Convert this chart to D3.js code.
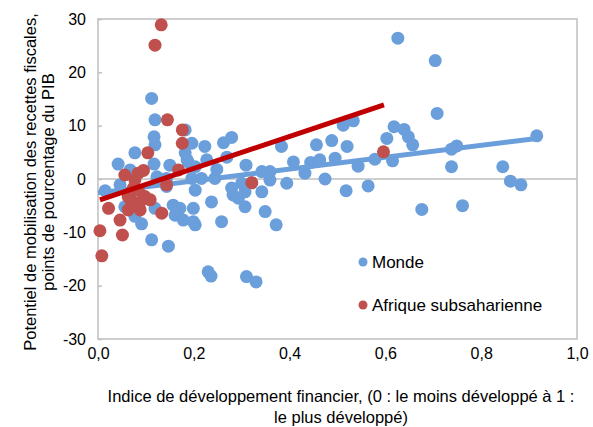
<!DOCTYPE html>
<html>
<head>
<meta charset="utf-8">
<script src="https://cdn.jsdelivr.net/npm/d3@7"></script>
<style>
  body { margin: 0; background: #fff; }
  text { font-family: "Liberation Sans", Arial, sans-serif; fill: #000; }
</style>
</head>
<body>
<div id="chart"></div>
<script>
// Monde: [financial development index, tax potential (pp of GDP)]
const worldX = [0.112, 0.119, 0.117, 0.119, 0.077, 0.042, 0.117, 0.150, 0.182, 0.196,
                0.182, 0.223, 0.262, 0.279, 0.227, 0.269, 0.309, 0.188, 0.203, 0.248,
                0.216, 0.196, 0.244, 0.123, 0.143, 0.046, 0.143, 0.203, 0.056, 0.119,
                0.157, 0.171, 0.199, 0.161, 0.178, 0.203, 0.091, 0.077, 0.112, 0.147,
                0.237, 0.258, 0.282, 0.293, 0.307, 0.199, 0.349, 0.372, 0.230, 0.236,
                0.310, 0.330, 0.300, 0.307, 0.342, 0.359, 0.342, 0.359, 0.394, 0.408,
                0.383, 0.432, 0.444, 0.456, 0.463, 0.474, 0.488, 0.495, 0.512, 0.533,
                0.520, 0.518, 0.543, 0.564, 0.578, 0.603, 0.618, 0.639, 0.648, 0.657,
                0.615, 0.626, 0.704, 0.708, 0.676, 0.738, 0.749, 0.738, 0.761, 0.845,
                0.861, 0.883, 0.916, 0.279, 0.321, 0.186, 0.067, 0.015];
const worldY = [15.1, 11.1, 7.9, 6.4, 4.9, 2.8, 2.8, 2.6, 9.2, 6.7,
                4.9, 6.1, 6.8, 7.8, 3.6, 4.1, 2.6, 3.2, 2.3, 1.8,
                0.1, 0.1, 0.1, 0.4, 0.1, -1.1, -1.4, -2.1, -5.2, -5.5,
                -4.9, -5.5, -5.5, -6.8, -7.7, -8.6, -8.4, -7.0, -11.4, -12.6,
                -4.3, -8.0, -3.0, -3.6, -5.2, -8.0, -6.1, -8.6, -17.4, -18.2,
                -18.3, -19.3, -0.8, -2.4, -2.4, -0.2, 1.4, 1.4, -0.8, 3.2,
                6.1, 1.1, 3.1, 6.4, 3.6, 0.0, 7.2, 3.9, 10.1, 10.9,
                6.1, -2.2, 2.4, -1.3, 3.7, 7.6, 9.8, 9.3, 7.9, 6.4,
                3.4, 26.4, 22.2, 12.3, -5.7, 5.6, 6.2, 2.3, -5.0, 2.3,
                -0.4, -1.1, 8.1, -1.7, -0.7, 3.6, 1.7, -2.2];

// Afrique subsaharienne
const ssaX = [0.132, 0.119, 0.145, 0.176, 0.176, 0.104, 0.168, 0.095, 0.084, 0.056,
              0.077, 0.074, 0.143, 0.070, 0.084, 0.098, 0.063, 0.070, 0.088, 0.109,
              0.063, 0.088, 0.022, 0.046, 0.051, 0.133, 0.004, 0.008, 0.321, 0.596];
const ssaY = [28.9, 25.1, 11.1, 9.2, 6.7, 4.9, 1.7, 1.6, 1.1, 0.75,
              -0.2, -1.7, -1.1, -2.4, -2.1, -3.3, -3.3, -4.3, -4.3, -3.9,
              -5.8, -5.8, -5.5, -7.7, -10.5, -6.4, -9.7, -14.4, -0.7, 5.1];

// linear trend lines (start, end)
const worldTrend = [[0.0, -2.6], [0.916, 7.6]];
const ssaTrend = [[0.004, -3.9], [0.597, 13.9]];

const xTicks = [0, 0.2, 0.4, 0.6, 0.8, 1.0];
const yTicks = [-30, -20, -10, 0, 10, 20, 30];
const seriesNames = ["Monde", "Afrique subsaharienne"];
const colors = ["#6a9fdc", "#c0504d"];
const trendColors = ["#6a9fdc", "#c00000"];

const W = 593, H = 427;
const margin = {left: 98, top: 19, right: 16, bottom: 88};
const iw = W - margin.left - margin.right;
const ih = H - margin.top - margin.bottom;

const svg = d3.select("#chart").append("svg")
    .attr("width", W)
    .attr("height", H);

const g = svg.append("g")
    .attr("transform", `translate(${margin.left},${margin.top})`);

const x = d3.scaleLinear().domain([0, 1]).range([0, iw]);
const y = d3.scaleLinear().domain([-30, 30]).range([ih, 0]);

// plot frame
g.append("rect")
    .attr("x", 0).attr("y", 0)
    .attr("width", iw).attr("height", ih)
    .attr("fill", "none")
    .attr("stroke", "#bfbfbf")
    .attr("stroke-width", 1.5);

// zero line
g.append("line")
    .attr("x1", 0).attr("x2", iw)
    .attr("y1", y(0)).attr("y2", y(0))
    .attr("stroke", "#bfbfbf")
    .attr("stroke-width", 1.5);

// y axis (plain hyphen for negatives, like the original)
const yAxis = g.append("g")
    .call(d3.axisLeft(y).tickValues(yTicks).tickSize(-4).tickPadding(12)
        .tickFormat(d => String(d)));
yAxis.select(".domain").remove();
yAxis.selectAll(".tick line").attr("stroke", "#bfbfbf").attr("stroke-width", 1.5);
yAxis.selectAll(".tick text").attr("font-size", "16px").attr("fill", "#000")
    .style("font-family", "Liberation Sans, Arial, sans-serif");

// x axis
const xAxis = g.append("g")
    .attr("transform", `translate(0,${ih})`)
    .call(d3.axisBottom(x).tickValues(xTicks).tickSize(0).tickPadding(9)
        .tickFormat(d => d.toFixed(1).replace(".", ",")));
xAxis.select(".domain").remove();
xAxis.selectAll(".tick text").attr("font-size", "16px").attr("fill", "#000")
    .style("font-family", "Liberation Sans, Arial, sans-serif");

const world = worldX.map((d, i) => ({x: d, y: worldY[i]}));
const ssa = ssaX.map((d, i) => ({x: d, y: ssaY[i]}));
const line = d3.line().x(d => x(d[0])).y(d => y(d[1]));

// Monde points
g.append("g").selectAll("circle")
    .data(world)
    .enter()
    .append("circle")
    .attr("cx", d => x(d.x))
    .attr("cy", d => y(d.y))
    .attr("r", 6.5)
    .attr("fill", colors[0]);

g.append("path")
    .attr("d", line(worldTrend))
    .attr("stroke", trendColors[0])
    .attr("stroke-width", 5)
    .attr("fill", "none");

// Afrique subsaharienne points
g.append("g").selectAll("circle")
    .data(ssa)
    .enter()
    .append("circle")
    .attr("cx", d => x(d.x))
    .attr("cy", d => y(d.y))
    .attr("r", 6.5)
    .attr("fill", colors[1]);

g.append("path")
    .attr("d", line(ssaTrend))
    .attr("stroke", trendColors[1])
    .attr("stroke-width", 5)
    .attr("fill", "none");

// legend
const legend = svg.append("g").attr("transform", "translate(363,262)");
seriesNames.forEach(function(name, i) {
    legend.append("circle")
        .attr("cx", 0).attr("cy", i * 43)
        .attr("r", 4.5)
        .attr("fill", colors[i]);
    legend.append("text")
        .attr("x", 9).attr("y", i * 43 + 6)
        .attr("font-size", "17px")
        .text(name);
});

// axis titles
const xTitle = svg.append("text")
    .attr("text-anchor", "middle")
    .attr("font-size", "16.5px");
xTitle.append("tspan").attr("x", 341).attr("y", 402)
    .text("Indice de développement financier, (0 : le moins développé à 1 :");
xTitle.append("tspan").attr("x", 341).attr("y", 423)
    .text("le plus développé)");

const yTitle = svg.append("text")
    .attr("text-anchor", "middle")
    .attr("font-size", "16.5px")
    .attr("transform", "translate(0,182) rotate(-90)");
yTitle.append("tspan").attr("x", 0).attr("y", 36)
    .text("Potentiel de mobilisation des recettes fiscales,");
yTitle.append("tspan").attr("x", 0).attr("y", 54)
    .text("points de pourcentage du PIB");
</script>
</body>
</html>
